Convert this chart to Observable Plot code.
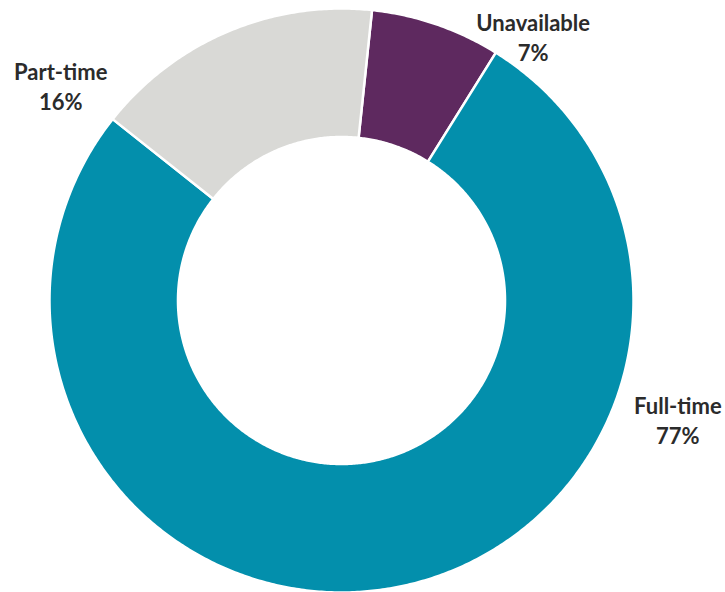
<!DOCTYPE html>
<html>
<head>
<meta charset="utf-8">
<script src="https://cdn.jsdelivr.net/npm/d3@7"></script>
<script src="https://cdn.jsdelivr.net/npm/@observablehq/plot@0.6"></script>
<style>
  html, body { margin: 0; padding: 0; background: #fff; }
  #chart svg { display: block; }
</style>
</head>
<body>
<div id="chart"></div>
<script>
// ---- data ----
const categories = ["Unavailable", "Full-time", "Part-time"];
const shares = [7.2, 76.8, 16.0];           // percent of total
const colors = ["#5e295f", "#038fac", "#d9d9d6"];

// ---- layout (annotation placement, polar: degrees clockwise from north, radius in outer-radius units) ----
const startDeg = 6;
const innerRatio = 0.56;
const labelAngle = [36, 109.5, 307.5];
const labelRadius = [1.117, 1.222, 1.212];

const pie = d3.pie().sort(null)
  .startAngle(startDeg * Math.PI / 180)
  .endAngle(startDeg * Math.PI / 180 + 2 * Math.PI)(shares);

const rows = [];
pie.forEach((s, i) => {
  const n = Math.max(8, Math.ceil((s.endAngle - s.startAngle) / (Math.PI / 360)));
  for (let k = 0; k <= n; k++) {
    const a = s.startAngle + (s.endAngle - s.startAngle) * k / n;
    rows.push({cat: categories[i], x: Math.sin(a), y: Math.cos(a)});
  }
  for (let k = n; k >= 0; k--) {
    const a = s.startAngle + (s.endAngle - s.startAngle) * k / n;
    rows.push({cat: categories[i], x: innerRatio * Math.sin(a), y: innerRatio * Math.cos(a)});
  }
});

const labels = categories.map((c, i) => {
  const a = labelAngle[i] * Math.PI / 180;
  return {cat: c, pct: Math.round(shares[i]), x: labelRadius[i] * Math.sin(a), y: labelRadius[i] * Math.cos(a)};
});

const chart = Plot.plot({
  width: 725,
  height: 592,
  marginLeft: 49,
  marginRight: 92,
  marginTop: 8,
  marginBottom: 0,
  x: {domain: [-1, 1], axis: null},
  y: {domain: [-1, 1], axis: null},
  color: {domain: categories, range: colors},
  style: {fontFamily: "Lato, 'Open Sans', sans-serif", background: "#fff", overflow: "visible"},
  marks: [
    Plot.line(rows, {x: "x", y: "y", z: "cat", fill: "cat", stroke: "white", strokeWidth: 2.5, curve: "linear-closed"}),
    Plot.text(labels, {
      x: "x", y: "y",
      text: d => `${d.cat}\n${d.pct}%`,
      fontSize: 22, fontWeight: "bold", fill: "#2b2b2b", lineHeight: 1.36
    })
  ]
});
document.getElementById("chart").appendChild(chart);
</script>
</body>
</html>
